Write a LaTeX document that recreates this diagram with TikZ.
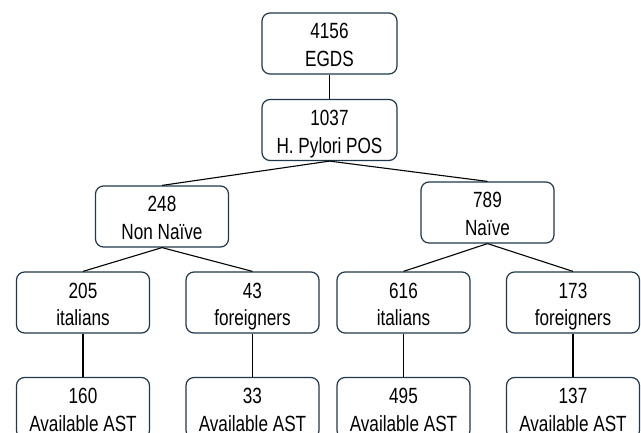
\documentclass[tikz,border=0pt]{standalone}
\usepackage{fontspec}
\setmainfont{Liberation Sans}[FakeStretch=0.78]
\definecolor{boxline}{RGB}{31,56,74}
\newcommand\twolines[2]{\rule{0pt}{25pt}#1\\#2\rule[-6pt]{0pt}{6pt}}
\begin{document}
\begin{tikzpicture}[x=1pt,y=-1pt,
    cohort/.style={draw=boxline,line width=1.2pt,rounded corners=8pt,minimum width=133pt,minimum height=61pt,align=center,inner sep=0pt,font=\fontsize{22}{28}\selectfont},
    link/.style={black,line width=1.1pt}]
  \useasboundingbox (0,0) rectangle (641,433);
  \clip (0,0) rectangle (641,433);
  % boxes
  \node[cohort,minimum width=135pt] (egds) at (329.5,43.5) {\twolines{4156}{EGDS}};
  \node[cohort,minimum width=135pt] (hp) at (329.5,130) {\twolines{1037}{H. Pylori POS}};
  \node[cohort] (nonnaive) at (162,216.5) {\twolines{248}{Non Naïve}};
  \node[cohort] (naive) at (487.5,212.5) {\twolines{789}{Naïve}};
  \node[cohort] (ita1) at (83,302.5) {\twolines{205}{italians}};
  \node[cohort] (for1) at (252.5,302.5) {\twolines{43}{foreigners}};
  \node[cohort] (ita2) at (403.5,302.5) {\twolines{616}{italians}};
  \node[cohort] (for2) at (573,302.5) {\twolines{173}{foreigners}};
  \node[cohort] (ast1) at (83,408) {\twolines{160}{Available AST}};
  \node[cohort] (ast2) at (252.5,408) {\twolines{33}{Available AST}};
  \node[cohort] (ast3) at (403.5,408) {\twolines{495}{Available AST}};
  \node[cohort] (ast4) at (573,408) {\twolines{137}{Available AST}};
  % links
  \draw[link] (egds) -- (hp);
  \draw[link] (hp.south) -- (nonnaive.north);
  \draw[link] (hp.south) -- (naive.north);
  \draw[link] (nonnaive.south) -- (ita1.north);
  \draw[link] (nonnaive.south) -- (for1.north);
  \draw[link] (naive.south) -- (ita2.north);
  \draw[link] (naive.south) -- (for2.north);
  \draw[link] (ita1) -- (ast1);
  \draw[link] (for1) -- (ast2);
  \draw[link] (ita2) -- (ast3);
  \draw[link] (for2) -- (ast4);
\end{tikzpicture}
\end{document}
